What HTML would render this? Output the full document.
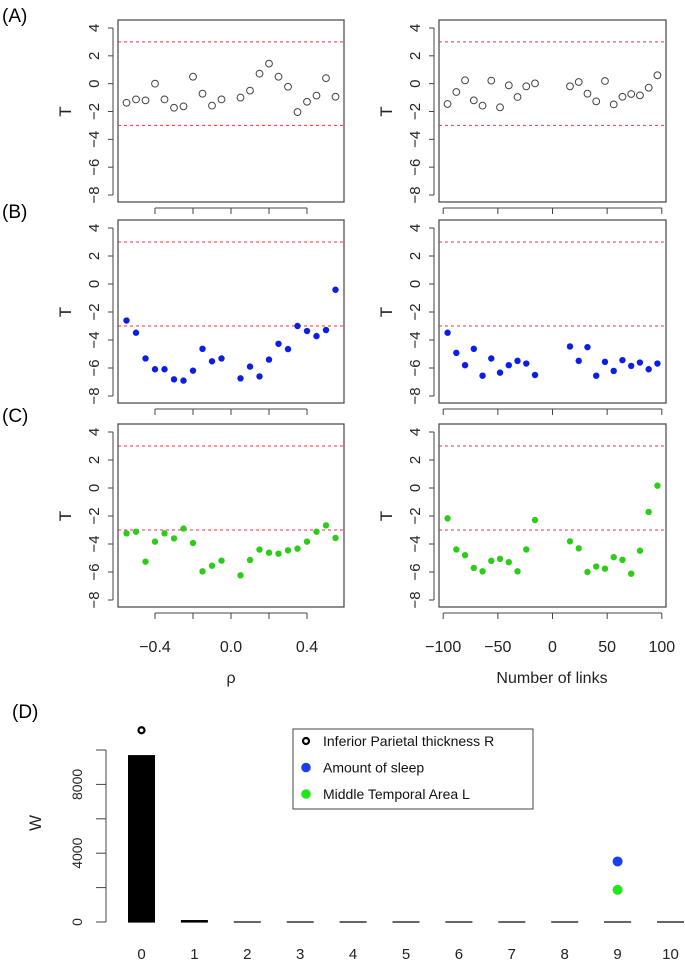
<!DOCTYPE html>
<html><head><meta charset="utf-8"><style>
body{margin:0;background:#fff;}
svg{display:block;font-family:"Liberation Sans",Arial,sans-serif;}
</style></head><body>
<svg id="fig" width="685" height="962" viewBox="0 0 685 962" xmlns="http://www.w3.org/2000/svg"></svg>
<script>
// ---------- data ----------
const rhoCats = [-0.55,-0.5,-0.45,-0.4,-0.35,-0.3,-0.25,-0.2,-0.15,-0.1,-0.05,0.05,0.1,0.15,0.2,0.25,0.3,0.35,0.4,0.45,0.5,0.55];
const linkCats = [-96,-88,-80,-72,-64,-56,-48,-40,-32,-24,-16,16,24,32,40,48,56,64,72,80,88,96];
const aRho = [-1.37,-1.13,-1.2,0,-1.13,-1.73,-1.63,0.5,-0.72,-1.58,-1.13,-1.0,-0.5,0.72,1.44,0.5,-0.22,-2.04,-1.3,-0.86,0.4,-0.94];
const aLinks = [-1.46,-0.6,0.24,-1.2,-1.58,0.22,-1.7,-0.12,-0.96,-0.19,0.02,-0.19,0.12,-0.72,-1.27,0.19,-1.49,-0.94,-0.74,-0.84,-0.29,0.6];
const bRho = [-2.61,-3.48,-5.32,-6.09,-6.09,-6.81,-6.9,-6.19,-4.63,-5.52,-5.32,-6.74,-5.9,-6.6,-5.4,-4.27,-4.65,-3.0,-3.36,-3.72,-3.29,-0.41];
const bLinks = [-3.48,-4.92,-5.8,-4.63,-6.55,-5.32,-6.33,-5.8,-5.49,-5.68,-6.5,-4.46,-5.49,-4.51,-6.55,-5.56,-6.21,-5.44,-5.85,-5.61,-6.09,-5.68];
const cRho = [-3.24,-3.12,-5.26,-3.83,-3.24,-3.6,-2.9,-3.93,-5.95,-5.55,-5.19,-6.24,-5.14,-4.4,-4.62,-4.69,-4.45,-4.33,-3.83,-3.12,-2.67,-3.57];
const cLinks = [-2.17,-4.39,-4.8,-5.71,-5.95,-5.2,-5.06,-5.3,-5.95,-4.39,-2.29,-3.81,-4.31,-6.0,-5.61,-5.76,-4.94,-5.13,-6.12,-4.48,-1.71,0.17];
const yTicks = [4,2,0,-2,-4,-6,-8];
const rhoTicks = [-0.4,-0.2,0,0.2,0.4];
const rhoTickLabels = ["\u22120.4","","0.0","","0.4"];
const linkTicks = [-100,-50,0,50,100];
const linkTickLabels = ["\u2212100","\u221250","0","50","100"];
const dCats = [0,1,2,3,4,5,6,7,8,9,10];
const dBars = [9740,150,70,40,15,10,10,10,10,10,10];
const dYTicks = [0,2000,4000,6000,8000,10000];
const dYLabels = ["0","","4000","","8000",""];
const dOpen = {cat:0, value:11150};
const dBlue = {cat:9, value:3520};
const dGreen = {cat:9, value:1870};
const legendLabels = ["Inferior Parietal thickness R","Amount of sleep","Middle Temporal Area L"];

// ---------- drawing ----------
const NS="http://www.w3.org/2000/svg";
const svg=document.getElementById('fig');
function el(tag,attrs,parent){const e=document.createElementNS(NS,tag);for(const k in attrs)e.setAttribute(k,attrs[k]);(parent||svg).appendChild(e);return e;}
function txt(s,attrs,parent){const e=el('text',attrs,parent);e.textContent=s;return e;}

const rows=[
 {label:"(A)",y4:28,y8:195,left:aRho,right:aLinks,style:"open"},
 {label:"(B)",y4:228,y8:396,left:bRho,right:bLinks,style:"#0a1ee8"},
 {label:"(C)",y4:432,y8:600,left:cRho,right:cLinks,style:"#2ecc1a"}
];
const xRho=v=>231+v*190;
const xLink=v=>552.5+v*1.093;

rows.forEach((r,ri)=>{
  const yT=v=>r.y4+(4-v)*(r.y8-r.y4)/12;
  const g=el('g',{});
  
  
  const pl=txt(r.label,{x:2,y:r.y4-10+(ri==0?4:0),'font-size':19},g);
  
  
  [[118,344,rhoCats,r.left,xRho,rhoTicks,rhoTickLabels,'rho'],[439,666,linkCats,r.right,xLink,linkTicks,linkTickLabels,'links']].forEach(p=>{
    const [bx0,bx1,cats,vals,xf,xt,xtl,nm]=p;
    const pg=el('g',{},g);
    
    
    const by0=r.y4-8, by1=r.y8+7;
    const box=el('rect',{x:bx0,y:by0,width:bx1-bx0,height:by1-by0,fill:'none',stroke:'#444','stroke-width':1.2},pg);
    
    
    const ax=bx0-5;
    el('line',{x1:ax,y1:yT(4),x2:ax,y2:yT(-8),stroke:'#444'},pg);
    yTicks.forEach(t=>{
      el('line',{x1:ax-5,y1:yT(t),x2:ax,y2:yT(t),stroke:'#444'},pg);
      const lx=ax-14;
      const tl=txt(String(t).replace('-','\u2212'),{x:lx,y:yT(t),'font-size':15,'text-anchor':'middle',transform:`rotate(-90 ${lx} ${yT(t)})`,fill:'#222'},pg);
      
      
    });
    const tx=ax-42, ty=(yT(4)+yT(-8))/2;
    const yl=txt('T',{x:tx,y:ty,'font-size':17,'text-anchor':'middle',transform:`rotate(-90 ${tx} ${ty})`,fill:'#222'},pg);
    
    
    const axy=by1+6;
    el('line',{x1:xf(xt[0]),y1:axy,x2:xf(xt[xt.length-1]),y2:axy,stroke:'#444'},pg);
    xt.forEach((t,i)=>{
      el('line',{x1:xf(t),y1:axy,x2:xf(t),y2:axy+6,stroke:'#444'},pg);
      if(ri==2&&xtl[i]){const l=txt(xtl[i],{x:xf(t),y:axy+39,'font-size':16,'text-anchor':'middle',fill:'#222'},pg);
        
        }
    });
    [3,-3].forEach(v=>{const d=el('line',{x1:bx0,y1:yT(v),x2:bx1,y2:yT(v),stroke:'#e8334a','stroke-dasharray':'3,3','stroke-width':1},pg);
      
      });
    cats.forEach((c,i)=>{
      let pt;
      if(r.style==='open') pt=el('circle',{cx:xf(c),cy:yT(vals[i]),r:3.4,fill:'none',stroke:'#444','stroke-width':1},pg);
      else pt=el('circle',{cx:xf(c),cy:yT(vals[i]),r:3.2,fill:r.style},pg);
      
      
    });
  });
});
const rl=txt('\u03c1',{x:231,y:683,'font-size':16,'text-anchor':'middle',fill:'#222'});


const nl=txt('Number of links',{x:552,y:683,'font-size':16,'text-anchor':'middle',fill:'#222'});



// ---------- panel D ----------
const dg=el('g',{});


const dl=txt('(D)',{x:12,y:718,'font-size':19},dg);


const xD=c=>141.5+c*52.9;
const yD=v=>922-v*(922-750)/10000;
el('line',{x1:106,y1:yD(0),x2:106,y2:yD(10000),stroke:'#444'},dg);
dYTicks.forEach((t,i)=>{
  el('line',{x1:96,y1:yD(t),x2:106,y2:yD(t),stroke:'#444'},dg);
  if(dYLabels[i]){const l=txt(dYLabels[i],{x:82,y:yD(t),'font-size':14,'text-anchor':'middle',transform:`rotate(-90 82 ${yD(t)})`,fill:'#222'},dg);
    
    }
});
const wl=txt('W',{x:41,y:823,'font-size':17,'text-anchor':'middle',transform:'rotate(-90 41 823)',fill:'#222'},dg);


dCats.forEach((c,i)=>{
  const h=Math.max(yD(0)-yD(dBars[i]),1.2);
  const b=el('rect',{x:xD(c)-13.5,y:yD(0)-h+0.6,width:27,height:h,fill:'#000'},dg);
  
  
  const l=txt(String(c),{x:xD(c),y:959,'font-size':15,'text-anchor':'middle',fill:'#222'},dg);
  
  
});
const po=el('circle',{cx:xD(dOpen.cat),cy:yD(dOpen.value),r:3,fill:'none',stroke:'#000','stroke-width':2.2},dg);


const pb=el('circle',{cx:xD(dBlue.cat),cy:yD(dBlue.value),r:5,fill:'#1a3ff0'},dg);


const pgp=el('circle',{cx:xD(dGreen.cat),cy:yD(dGreen.value),r:5,fill:'#1ee81a'},dg);


const lg=el('g',{},dg);


el('rect',{x:293,y:729,width:240,height:80,fill:'#fff',stroke:'#444'},lg);
const legStyles=[{fill:'none',stroke:'#000','stroke-width':2.2,r:3},{fill:'#1a3ff0',r:4.8},{fill:'#1ee81a',r:4.8}];
legendLabels.forEach((s,i)=>{
  const y=741+i*26.5;
  const a=Object.assign({cx:306,cy:y},legStyles[i]);
  const c=el('circle',a,lg);
  
  
  const t=txt(s,{x:323,y:y+5,'font-size':14,fill:'#111'},lg);
  
  
});
</script>
</body></html>
